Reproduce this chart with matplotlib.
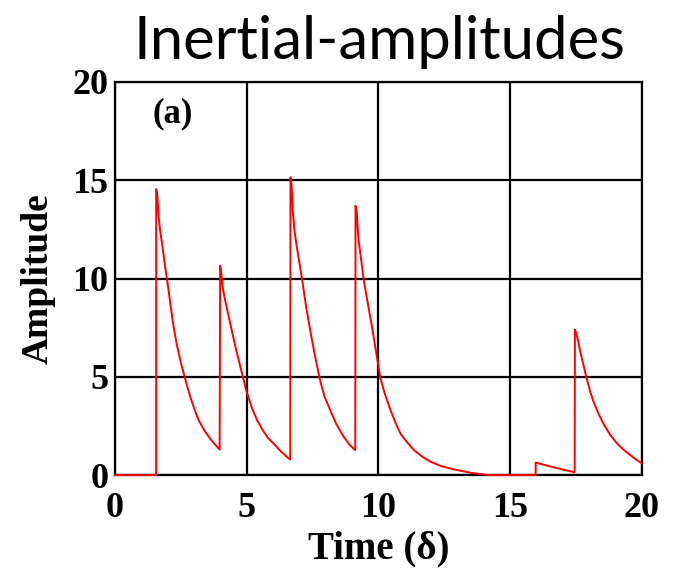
import matplotlib
matplotlib.use("Agg")
import matplotlib.pyplot as plt

# values (time, amplitude)
time = [0.0, 1.56,
        1.56, 1.60, 1.65, 1.71, 1.80, 1.90, 2.00, 2.10, 2.22, 2.35, 2.50, 2.66,
        2.85, 3.00, 3.17, 3.40, 3.61, 3.80, 3.97,
        3.99, 4.03, 4.08, 4.14, 4.25, 4.35, 4.44, 4.60, 4.75, 4.87, 4.98, 5.20,
        5.39, 5.60, 5.80, 6.02, 6.30, 6.59, 6.65,
        6.66, 6.70, 6.75, 6.81, 6.90, 7.00, 7.10, 7.25, 7.41, 7.60, 7.77, 7.95,
        8.17, 8.40, 8.68, 8.90, 9.09, 9.12,
        9.13, 9.17, 9.22, 9.25, 9.35, 9.44, 9.60, 9.76, 9.92, 10.08, 10.25,
        10.46, 10.65, 10.84, 11.10, 11.35, 11.65, 11.98, 12.40, 12.87, 13.50,
        13.90, 14.20, 15.97,
        15.97, 16.50, 17.00, 17.45,
        17.46, 17.50, 17.58, 17.66, 17.74, 17.91, 18.05, 18.19, 18.38, 18.57,
        18.80, 19.07, 19.30, 19.58, 19.80, 20.00]
amplitude = [0.0, 0.0,
             14.55, 14.3, 13.2, 12.45, 11.6, 10.6, 9.7, 8.7, 7.55, 6.6, 5.7, 4.9,
             4.0, 3.4, 2.8, 2.25, 1.85, 1.55, 1.3,
             10.65, 10.3, 9.6, 9.15, 8.45, 7.85, 7.3, 6.35, 5.55, 4.9, 4.3, 3.4,
             2.8, 2.3, 1.9, 1.6, 1.2, 0.85, 0.8,
             15.15, 14.8, 13.4, 12.45, 11.6, 10.8, 9.95, 8.6, 7.35, 6.0, 4.9, 4.0,
             3.3, 2.6, 1.95, 1.55, 1.3, 1.28,
             13.7, 13.5, 12.4, 11.9, 10.9, 9.95, 8.7, 7.5, 6.2, 4.9, 4.1,
             3.3, 2.65, 2.1, 1.65, 1.27, 0.95, 0.68, 0.45, 0.29, 0.12,
             0.05, 0.0, 0.0,
             0.64, 0.45, 0.28, 0.15,
             7.4, 7.25, 6.85, 6.3, 5.85, 4.9, 4.2, 3.65, 3.05, 2.55,
             2.05, 1.6, 1.3, 1.0, 0.78, 0.6]

x_ticks = [0, 5, 10, 15, 20]
y_ticks = [0, 5, 10, 15, 20]

plt.rcParams['font.family'] = 'Liberation Serif'
plt.rcParams['font.weight'] = 'bold'

fig = plt.figure(figsize=(6.77, 5.69), dpi=100)
ax = fig.add_axes([0.170, 0.165, 0.778, 0.691])

ax.plot(time, amplitude, color="#ff0000", linewidth=1.4, zorder=5, clip_on=False)

ax.set_xlim(0, 20)
ax.set_ylim(0, 20)
ax.set_xticks(x_ticks)
ax.set_yticks(y_ticks)
ax.grid(True, color="black", linewidth=1.6)
ax.set_axisbelow(True)
for sp in ax.spines.values():
    sp.set_linewidth(1.6)
ax.tick_params(axis="x", length=0, pad=12, labelsize=26)
ax.tick_params(axis="y", length=0, pad=5, labelsize=26)
for lab in ax.get_xticklabels() + ax.get_yticklabels():
    lab.set_fontweight("bold")

ax.set_xlabel("Time (δ)", fontsize=28, fontweight="bold", labelpad=4)
ax.set_ylabel("Amplitude", fontsize=27, fontweight="bold", labelpad=12)
ax.text(2.17, 18.4, "(a)", fontsize=25, fontweight="bold", ha="center", va="center")

fig.text(0.56, 0.927, "Inertial-amplitudes", family="Lato", fontweight="normal",
         fontsize=43, ha="center", va="center")

fig.savefig("out.png", dpi=100)
